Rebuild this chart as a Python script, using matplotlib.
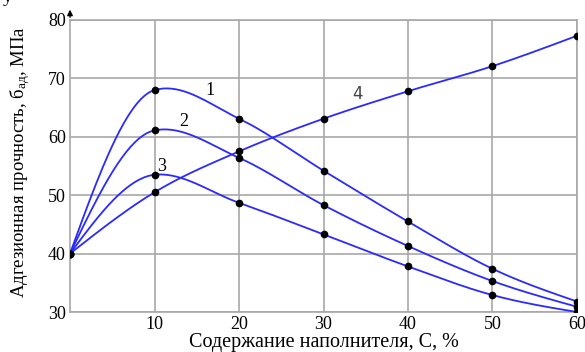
import numpy as np
import matplotlib.pyplot as plt

plt.rcParams['font.family'] = ['Liberation Serif', 'DejaVu Serif']
plt.rcParams['mathtext.fontset'] = 'custom'
plt.rcParams['mathtext.rm'] = 'Liberation Serif'
plt.rcParams['mathtext.it'] = 'Liberation Serif'

# filler content, %
conc = [0, 10, 20, 30, 40, 50, 60]
curve1 = [40, 68.0, 63.1, 54.2, 45.5, 37.4, 31.8]
curve2 = [40, 61.1, 56.4, 48.3, 41.3, 35.3, 30.9]
curve3 = [40, 53.5, 48.7, 43.3, 37.8, 32.9, 30.0]
curve4 = [40, 50.5, 57.5, 63.1, 67.8, 72.1, 77.3]
labels = ['1', '2', '3', '4']
label_xy = [(16.6, 68.0), (13.5, 62.7), (10.9, 54.9), (34.0, 67.3)]


def smooth(x, y, tension=0.5, first=0.5, n=40):
    # cubic hermite through the points, only for drawing
    x = np.asarray(x, float)
    y = np.asarray(y, float)
    m = np.zeros_like(y)
    for i in range(1, len(x) - 1):
        k = first if i == 1 else tension
        m[i] = k * 2 * (y[i + 1] - y[i - 1]) / (x[i + 1] - x[i - 1])
    s0 = (y[1] - y[0]) / (x[1] - x[0])
    s1 = (y[-1] - y[-2]) / (x[-1] - x[-2])
    m[0] = (3 * s0 - m[1]) / 2
    m[-1] = (3 * s1 - m[-2]) / 2
    xs, ys = [], []
    for i in range(len(x) - 1):
        h = x[i + 1] - x[i]
        t = np.linspace(0, 1, n)
        h00 = 2 * t**3 - 3 * t**2 + 1
        h10 = t**3 - 2 * t**2 + t
        h01 = -2 * t**3 + 3 * t**2
        h11 = t**3 - t**2
        xs.append(x[i] + t * h)
        ys.append(h00 * y[i] + h10 * h * m[i] + h01 * y[i + 1] + h11 * h * m[i + 1])
    return np.concatenate(xs), np.concatenate(ys)


fig = plt.figure(figsize=(5.85, 3.52), dpi=100)
ax = fig.add_axes([0.1197, 0.1136, 0.8666, 0.8296])

for cy in [curve1, curve2, curve3]:
    sx, sy = smooth(conc, cy, first=0.18)
    ax.plot(sx, sy, color='#2a2aff', lw=1.3, zorder=3)
    ax.plot(conc, cy, 'o', color='black', ms=4.5, zorder=4)
sx, sy = smooth(conc, curve4)
ax.plot(sx, sy, color='#2a2aff', lw=1.3, zorder=3)
ax.plot(conc, curve4, 'o', color='black', ms=4.5, zorder=4)

for i, (lx, ly) in enumerate(label_xy):
    if labels[i] == '4':
        ax.text(lx, ly, labels[i], fontsize=12, family='DejaVu Sans', color='#444444',
                ha='center', va='center')
    else:
        ax.text(lx, ly, labels[i], fontsize=13, ha='center', va='center')

ax.set_xlim(0, 60)
ax.set_ylim(30, 80)
ax.set_xticks([10, 20, 30, 40, 50, 60])
ax.set_yticks([30, 40, 50, 60, 70, 80])
ax.grid(color='#a8a8a8', lw=1.2)
for sp in ax.spines.values():
    sp.set_color('#a8a8a8')
    sp.set_linewidth(1.2)
ax.tick_params(length=0, labelsize=13, pad=3)
ax.set_axisbelow(True)

# arrow on top of the y axis
ax.annotate('', xy=(0, 1.045), xytext=(0, 1.0), xycoords='axes fraction',
            arrowprops=dict(arrowstyle='-|>', color='black', lw=1, mutation_scale=8))

ax.set_xlabel('Содержание наполнителя, С, %', fontsize=14.5, labelpad=0)
fig.text(0.034, 0.54, 'Адгезионная прочность, б$_{\\mathrm{ад}}$, МПа', rotation=90,
         fontsize=13.5, ha='center', va='center')
fig.text(0.004, 1.03, 'у', fontsize=14, va='top')

fig.savefig('out.png', dpi=100)
